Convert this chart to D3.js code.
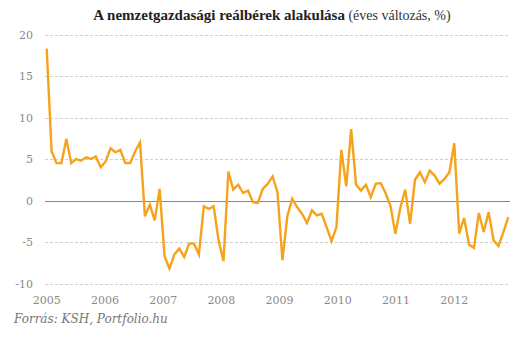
<!DOCTYPE html>
<html><head><meta charset="utf-8">
<script src="https://cdn.jsdelivr.net/npm/d3@7"></script>
<style>body{margin:0;background:#fff}</style>
</head><body>
<svg id="c" width="531" height="342"></svg>
<script>
const titleBold = "A nemzetgazdasági reálbérek alakulása";
const titleNormal = " (éves változás, %)";
const source = "Forrás: KSH, Portfolio.hu";
const years = ["2005","2006","2007","2008","2009","2010","2011","2012"];
const yTicks = [-10,-5,0,5,10,15,20];
// monthly, Jan 2005 - Nov 2012
const values = [
 18.3, 5.9, 4.5, 4.5, 7.4, 4.5, 5.0, 4.8, 5.2, 5.0, 5.3, 4.0,
 4.7, 6.3, 5.8, 6.1, 4.5, 4.5, 5.9, 7.0, -1.9, -0.5, -2.4, 1.4,
 -6.7, -8.2, -6.5, -5.8, -6.8, -5.2, -5.2, -6.5, -0.7, -1.0, -0.7, -4.8,
 -7.3, 3.5, 1.3, 1.9, 0.9, 1.2, -0.2, -0.3, 1.4, 2.0, 2.9, 1.0,
 -7.2, -1.9, 0.2, -0.8, -1.6, -2.7, -1.2, -1.8, -1.6, -3.2, -4.9, -3.2,
 6.1, 1.7, 8.6, 1.9, 1.2, 1.9, 0.4, 2.0, 2.1, 0.9, -0.6, -4.0,
 -0.9, 1.3, -2.8, 2.5, 3.4, 2.2, 3.6, 3.0, 2.0, 2.6, 3.4, 6.9,
 -4.0, -2.1, -5.3, -5.7, -1.5, -3.8, -1.4, -4.8, -5.5, -3.8, -2.0
];

const svg = d3.select("#c");
const x = d3.scaleLinear().domain([0, values.length-1]).range([46.7, 508.3]);
const y = d3.scaleLinear().domain([-10, 20]).range([283.5, 34.5]);
const gridX0 = 45, gridX1 = 510;

// grid
svg.append("g").selectAll("line").data(yTicks).join("line")
  .attr("x1", gridX0).attr("x2", gridX1)
  .attr("y1", d=>Math.round(y(d))+0.5).attr("y2", d=>Math.round(y(d))+0.5)
  .attr("stroke", d=> d===0 ? "#888" : "#cfcfcf")
  .attr("stroke-width", 1)
  .attr("stroke-dasharray", d=> d===0 ? null : "3,2");

// y labels
svg.append("g").selectAll("text").data(yTicks).join("text")
  .attr("x", 33).attr("y", d=>y(d)+4)
  .attr("text-anchor","end")
  .attr("font-family","'DejaVu Serif', serif").attr("font-size",11)
  .attr("fill","#8a8a8a")
  .text(d=>d);

// year labels
const yearStep = (x(83)-x(0))/7;
svg.append("g").selectAll("text").data(years).join("text")
  .attr("x", (d,i)=> x(0) + i*yearStep)
  .attr("y", 304)
  .attr("text-anchor","middle")
  .attr("font-family","'DejaVu Serif', serif").attr("font-size",11)
  .attr("fill","#8a8a8a")
  .text(d=>d);

// line
svg.append("path").datum(values)
  .attr("fill","none").attr("stroke","#f7a21b").attr("stroke-width",2.4)
  .attr("stroke-linejoin","miter")
  .attr("d", d3.line().x((d,i)=>x(i)).y(d=>y(d)));

// title
const t = svg.append("text").attr("x", 272).attr("y", 20).attr("text-anchor","middle")
  .attr("font-family","'Liberation Serif', Georgia, serif").attr("font-size",15).attr("fill","#222");
t.append("tspan").attr("font-weight","bold").text(titleBold);
t.append("tspan").attr("font-size",14).attr("fill","#333").text(titleNormal);

// source
svg.append("text").attr("x", 14).attr("y", 323)
  .attr("font-family","'DejaVu Serif', Georgia, serif").attr("font-style","italic")
  .attr("font-size",12).attr("fill","#777").text(source);
</script>
</body></html>
